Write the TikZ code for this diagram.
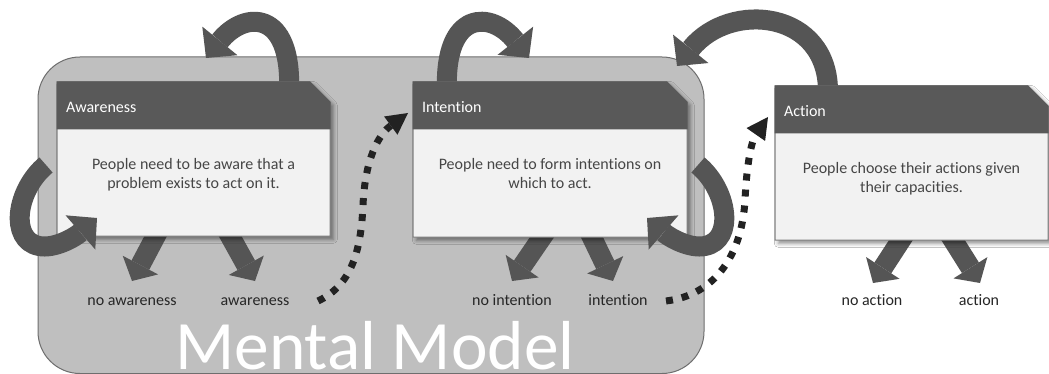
\documentclass[tikz,border=0pt]{standalone}
\usepackage{fontspec}
\setmainfont{Carlito}[Ligatures={NoCommon}]
\usetikzlibrary{arrows.meta,shadows.blur}

\definecolor{mmfill}{RGB}{191,191,191}
\definecolor{mmline}{RGB}{110,110,110}
\definecolor{hdr}{RGB}{89,89,89}
\definecolor{bodyfill}{RGB}{242,242,242}
\definecolor{boxline}{RGB}{127,127,127}
\definecolor{arrowgray}{RGB}{85,85,85}
\definecolor{dotblack}{RGB}{34,34,34}
\definecolor{bodytextcol}{RGB}{70,70,70}
\definecolor{labelcol}{RGB}{38,38,38}

\tikzset{
  bigarrow/.style={draw=arrowgray, line width=15pt,
    -{Triangle[length=16.5pt,width=34pt,line width=0pt]}},
  downarrow/.style={draw=arrowgray, line width=15pt,
    -{Triangle[length=13.5pt,width=30pt,line width=0pt]}},
  dotarrow/.style={draw=dotblack, line width=5.25pt, dash pattern=on 5.25pt off 6.75pt,
    -{Triangle[length=16pt,width=17pt,line width=0pt]}},
  boxbody/.style={fill=bodyfill, draw=boxline, line width=0.75pt,
    blur shadow={shadow xshift=2.5pt, shadow yshift=-2.5pt, shadow blur radius=3pt, shadow opacity=45}},
  boxhead/.style={fill=hdr, draw=hdr, line width=0.75pt},
  headtext/.style={text=white, font=\fontsize{12}{14}\selectfont},
  bodytext/.style={text=bodytextcol, align=center, font=\fontsize{12}{14.6}\selectfont},
  lbl/.style={text=labelcol, font=\fontsize{12}{14}\selectfont},
  bigtext/.style={text=white, font=\fontsize{52}{60}\selectfont},
}

% one information box: name, left, top, right, bottom, title, two-line body
\newcommand\infobox[7]{%
  \path[boxbody] (#2,#3) -- (#4-20,#3) -- (#4,#3+20) -- (#4,#5) -- (#2,#5) -- cycle;
  \path[boxhead] (#2,#3) -- (#4-20,#3) -- (#4,#3+20) -- (#4,#3+47) -- (#2,#3+47) -- cycle;
  \node[headtext, anchor=base west] (#1-title) at (#2+9,#3+31) {#6};
  % base anchor sits on the last line of the body text
  \node[bodytext, anchor=base] (#1-body) at ({(#2+#4)/2},#3+107) {#7};
}

\begin{document}
\begin{tikzpicture}[x=0.75pt, y=-0.75pt, every node/.style={inner sep=0pt, outer sep=0pt}]
\useasboundingbox (0,0) rectangle (1049,374);
\fill[white] (0,0) rectangle (1049,374);

% the mental model panel
\path[draw=mmline, line width=0.75pt, fill=mmfill, rounded corners=31.5pt] (38,57) rectangle (704,373.5);
\node[bigtext, anchor=base] (mm) at (375,369) {Mental Model};

% outcome labels
\node[lbl, anchor=base] (aw-no)  at (132,305) {no awareness};
\node[lbl, anchor=base] (aw-yes) at (255,305) {awareness};
\node[lbl, anchor=base] (in-no)  at (512,305) {no intention};
\node[lbl, anchor=base] (in-yes) at (618,305) {intention};
\node[lbl, anchor=base] (ac-no)  at (872,305) {no action};
\node[lbl, anchor=base] (ac-yes) at (979,305) {action};

% loops leaving the top of each box
\draw[bigarrow] (289,90) .. controls (292,10) and (245,10) .. (206,58);
\draw[bigarrow] (447,90) .. controls (444,10) and (491,10) .. (529,58);
\draw[bigarrow] (828,94) .. controls (830,10) and (730,0) .. (677,66);

% outcome arrows
\draw[downarrow] (161,226)   -- ([yshift=18pt]aw-no.base);
\draw[downarrow] (224.5,226) -- ([yshift=18pt]aw-yes.base);
\draw[downarrow] (549,227)   -- ([yshift=18pt]in-no.base);
\draw[downarrow] (587,227)   -- ([xshift=-3.75pt,yshift=18pt]in-yes.base);
\draw[downarrow] (907.5,230) -- ([xshift=0.75pt,yshift=16.5pt]ac-no.base);
\draw[downarrow] (946.7,230) -- ([xshift=0.75pt,yshift=16.5pt]ac-yes.base);

% the three stages
\infobox{aw}{57}{82}{330}{236}{Awareness}{People need to be aware that a\\problem exists to act on it.}
\infobox{in}{413}{82}{687}{237}{Intention}{People need to form intentions on\\which to act.}
\infobox{ac}{775}{86}{1048}{240}{Action}{People choose their actions given\\their capacities.}

% side loops returning into the boxes
\draw[bigarrow] (46,165) .. controls (16,190) and (9,240) .. (39,246)
                        .. controls (54,249) and (74,238) .. (97,218);
\draw[bigarrow] (698,165) .. controls (728,190) and (735,240) .. (705,246)
                          .. controls (690,249) and (670,238) .. (647,218);

% transitions to the next stage
\coordinate (aw-go) at (318,301);
\coordinate (in-go) at (666,301);
\draw[dotarrow] (aw-go) .. controls (352,285) and (361,250) .. (363,205)
                        .. controls (365,160) and (378,135) .. (408,113);
\draw[dotarrow] (in-go) .. controls (715,295) and (742,255) .. (745,200)
                        .. controls (747,160) and (752,140) .. (768,117);
\end{tikzpicture}
\end{document}
